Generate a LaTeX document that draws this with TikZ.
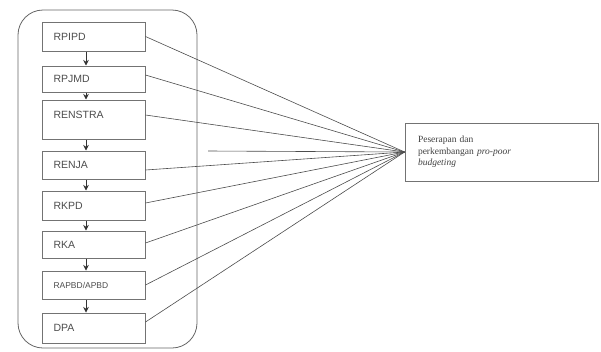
\documentclass[tikz,border=0pt]{standalone}
\usepackage{fontspec}
\setmainfont{Liberation Serif}
\newfontfamily\boxfont{Liberation Sans}
\usetikzlibrary{arrows.meta}
\begin{document}
\begin{tikzpicture}[x=1pt,y=-1pt,
  stepbox/.style={draw=black!55, line width=1pt, text=black!70, font=\boxfont\fontsize{10.5}{12}\selectfont,
    text width=80pt, inner xsep=11.5pt, inner ysep=0pt, align=left, anchor=center},
  flow/.style={draw=black!80, line width=0.8pt, -{Stealth[length=5.5pt,width=5.5pt]}},
  ray/.style={draw=black!70, line width=0.6pt},
]
\useasboundingbox (0,0) rectangle (601,351);
\draw[draw=black!60, line width=0.8pt, rounded corners=25pt] (18,10) rectangle (197,348);
\node[stepbox, minimum height=29pt] (b1) at (93.5,36.5) {RPIPD};
\node[stepbox, minimum height=26pt] (b2) at (93.5,79) {RPJMD};
\node[stepbox, minimum height=39pt] (b3) at (93.5,119.5) {\raisebox{9pt}{RENSTRA}};
\node[stepbox, minimum height=28pt] (b4) at (93.5,165) {RENJA};
\node[stepbox, minimum height=29pt] (b5) at (93.5,205.5) {RKPD};
\node[stepbox, minimum height=27pt] (b6) at (93.5,244.5) {RKA};
\node[stepbox, minimum height=28pt, font=\boxfont\fontsize{8.5}{10}\selectfont] (b7) at (93.5,285) {RAPBD/APBD};
\node[stepbox, minimum height=30pt] (b8) at (93.5,328) {DPA};
\foreach \a/\b in {b1/b2,b2/b3,b3/b4,b4/b5,b5/b6,b6/b7,b7/b8}
  \draw[flow] ([xshift=-7.5pt]\a.south) -- ([xshift=-7.5pt]\b.north);
\node[draw=black!55, line width=0.8pt, text width=167pt, inner xsep=13pt, inner ysep=0pt,
  minimum height=58pt, align=left, font=\fontsize{9.5}{11.5}\selectfont, text=black!75] (t) at (501.5,152)
  {\raisebox{5pt}{\parbox[t]{167pt}{Peserapan dan\\ perkembangan \textit{pro-poor}\\ \textit{budgeting}}}};
\coordinate (free) at (208,151);
\foreach \b/\s in {b1/0,b2/4,b3/4.5,b4/-5,b5/2.5,b6/1.5,b7/0,b8/6}
  \draw[ray] ([yshift=\s pt]\b.east) -- (t.west);
\draw[ray] (free) -- (t.west);
\end{tikzpicture}
\end{document}
